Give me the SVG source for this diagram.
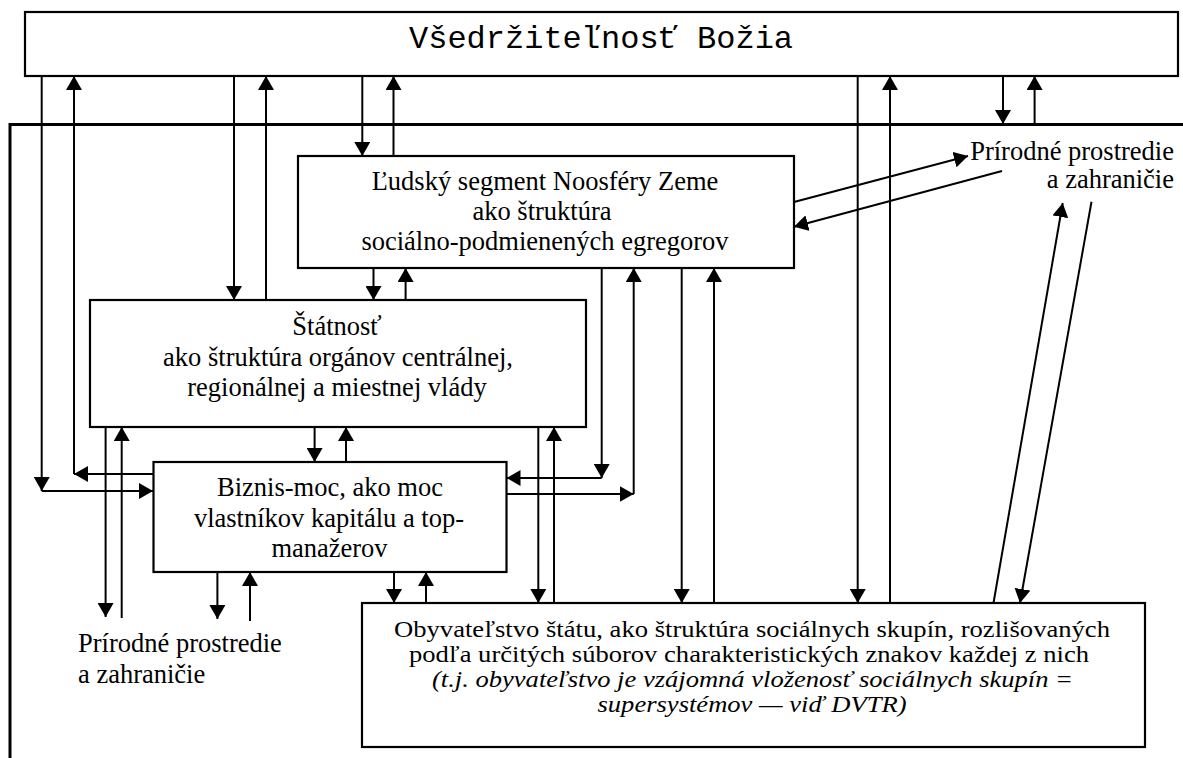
<svg xmlns="http://www.w3.org/2000/svg" width="1183" height="758" viewBox="0 0 1183 758">
<style>
.box{fill:#fff;stroke:#000;stroke-width:2.2}
.frame{fill:none;stroke:#000;stroke-width:3}
.c{fill:none;stroke:#000;stroke-width:2;marker-end:url(#ah)}
.t{font-family:"Liberation Serif","Times New Roman",serif;font-size:26.5px;fill:#000;text-anchor:middle}
.s{font-size:22.5px}
.ti{font-style:italic}
.mono{font-family:"Liberation Mono","Courier New",monospace;font-size:32px;fill:#000;text-anchor:middle}
.l{text-anchor:start}
.r{text-anchor:end}
</style>
<defs>
<marker id="ah" markerUnits="userSpaceOnUse" markerWidth="14" markerHeight="16" refX="14" refY="8" orient="auto" viewBox="0 0 14 16">
<path d="M0,0 L14,8 L0,16 z" fill="#000"/>
</marker>
</defs>
<rect width="1183" height="758" fill="#fff"/>
<path class="frame" d="M10,758 V124.5 H1183"/>

<g id="vsedrzitelnost">
<rect class="box" x="25" y="12" width="1153" height="64"/>
<text class="mono" x="601" y="48">Všedržiteľnosť Božia</text>
</g>

<g id="ludsky-segment">
<rect class="box" x="298" y="156" width="496" height="112"/>
<text class="t" x="545" y="190">Ľudský segment Noosféry Zeme</text>
<text class="t" x="542" y="220">ako štruktúra</text>
<text class="t" x="545" y="250">sociálno-podmienených egregorov</text>
</g>

<g id="statnost">
<rect class="box" x="90" y="300" width="496" height="127"/>
<text class="t" x="337" y="335">Štátnosť</text>
<text class="t" x="338" y="366">ako štruktúra orgánov centrálnej,</text>
<text class="t" x="337" y="396">regionálnej a miestnej vlády</text>
</g>

<g id="biznis-moc">
<rect class="box" x="153.5" y="462" width="353" height="110"/>
<text class="t" x="330" y="496">Biznis-moc, ako moc</text>
<text class="t" x="329" y="527">vlastníkov kapitálu a top-</text>
<text class="t" x="329.5" y="557">manažerov</text>
</g>

<g id="obyvatelstvo">
<rect class="box" x="362" y="603" width="783" height="144"/>
<text class="t s" x="752" y="637" textLength="716" lengthAdjust="spacingAndGlyphs">Obyvateľstvo štátu, ako štruktúra sociálnych skupín, rozlišovaných</text>
<text class="t s" x="749" y="662" textLength="680" lengthAdjust="spacingAndGlyphs">podľa určitých súborov charakteristických znakov každej z nich</text>
<text class="t s ti" x="752.5" y="687" textLength="641" lengthAdjust="spacingAndGlyphs">(t.j. obyvateľstvo je vzájomná vloženosť sociálnych skupín =</text>
<text class="t s ti" x="752" y="712" textLength="309" lengthAdjust="spacingAndGlyphs">supersystémov — viď DVTR)</text>
</g>

<g id="prirodne-prostredie-hore">
<text class="t r" x="1174" y="160">Prírodné prostredie</text>
<text class="t r" x="1174" y="188">a zahraničie</text>
</g>

<g id="prirodne-prostredie-dole">
<text class="t l" x="78" y="652">Prírodné prostredie</text>
<text class="t l" x="78" y="683">a zahraničie</text>
</g>

<g id="connectors">
<path class="c" d="M41.7,76 V491"/>
<path class="c" d="M41.7,491 H153"/>
<path class="c" d="M153.5,474 H74"/>
<path class="c" d="M74,474 V76"/>
<path class="c" d="M234,76 V300"/>
<path class="c" d="M266,300 V76"/>
<path class="c" d="M362.3,76 V156"/>
<path class="c" d="M393.5,156 V76"/>
<path class="c" d="M373.5,268 V300"/>
<path class="c" d="M405.6,300 V268"/>
<path class="c" d="M105.6,427 V617"/>
<path class="c" d="M121.7,618 V427"/>
<path class="c" d="M314.6,427 V462"/>
<path class="c" d="M346,462 V427"/>
<path class="c" d="M538.3,427 V603"/>
<path class="c" d="M554,603 V427"/>
<path class="c" d="M217.4,572 V619"/>
<path class="c" d="M250,621 V572"/>
<path class="c" d="M394,572 V603"/>
<path class="c" d="M426,603 V572"/>
<path class="c" d="M601.7,268 V478"/>
<path class="c" d="M601.7,478 H506.5"/>
<path class="c" d="M506.5,494 H633.7"/>
<path class="c" d="M633.7,494 V268"/>
<path class="c" d="M681.7,268 V603"/>
<path class="c" d="M714,603 V268"/>
<path class="c" d="M857.7,76 V603"/>
<path class="c" d="M890,603 V76"/>
<path class="c" d="M1003,76 V124"/>
<path class="c" d="M1034.6,124 V76"/>
<path class="c" d="M794,202 L968,156"/>
<path class="c" d="M1002,171 L794,226.7"/>
<path class="c" d="M993.5,603 L1062.7,203"/>
<path class="c" d="M1091.5,201.7 L1020,603"/>
</g>
</svg>
